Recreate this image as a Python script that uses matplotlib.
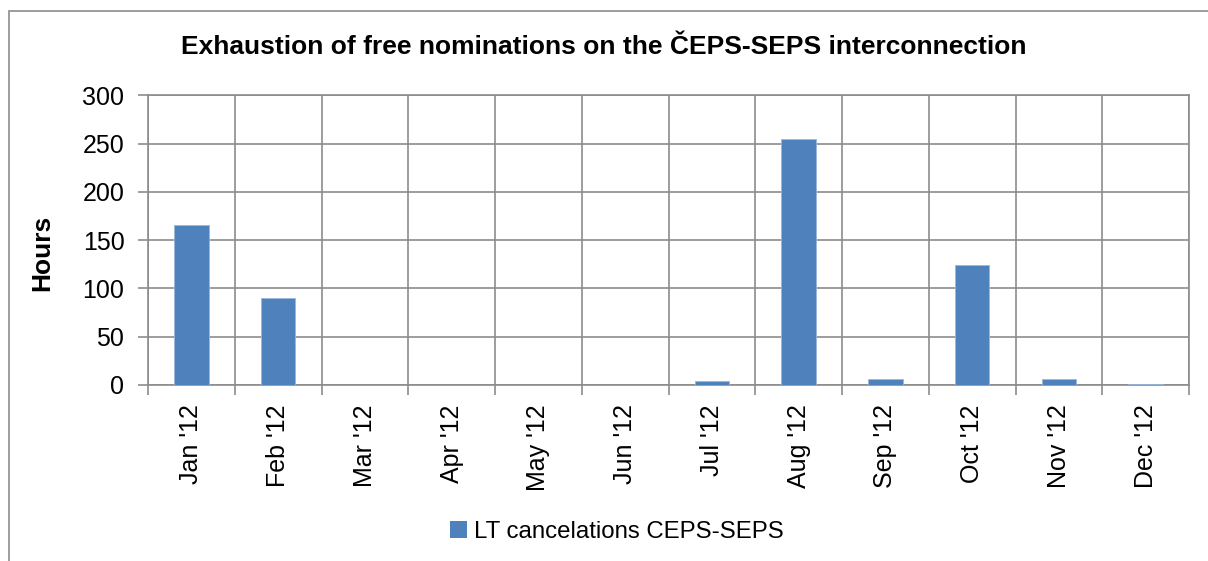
import matplotlib as mpl
mpl.use('Agg')
import matplotlib.pyplot as plt
import numpy as np
from matplotlib.patches import Rectangle, Patch

mpl.rcParams.update({
    'font.family': ['Liberation Sans', 'DejaVu Sans'],
    'font.size': 18,
})

months = ["Jan '12", "Feb '12", "Mar '12", "Apr '12", "May '12", "Jun '12",
          "Jul '12", "Aug '12", "Sep '12", "Oct '12", "Nov '12", "Dec '12"]
hours = [166, 90, 0, 0, 0, 0, 4, 255, 6, 124, 6, 1.5]
series_name = 'LT cancelations CEPS-SEPS'
title = 'Exhaustion of free nominations on the ČEPS-SEPS interconnection'

BAR = '#4F81BD'
GRID = '#8C8C8C'

W, H = 1208, 561
fig = plt.figure(figsize=(W / 100, H / 100), dpi=100)

# outer chart frame (cropped at right/bottom)
fig.patches.append(Rectangle((9 / W, -0.1), 1.2, 1 - 11 / H + 0.1,
                             transform=fig.transFigure, fill=False,
                             edgecolor='#8C8C8C', lw=1.2))

ax = fig.add_axes([148 / W, 1 - 385 / H, (1189 - 148) / W, (385 - 95.3) / H])
x = np.arange(len(months))
ax.bar(x, hours, width=0.4, color=BAR, edgecolor='#9BB7DA', lw=0.6, zorder=3)

ax.set_xlim(-0.5, len(months) - 0.5)
ax.set_ylim(0, 300)
ax.set_yticks(np.arange(0, 301, 50))
ax.set_xticks(x)
ax.set_xticklabels(months, rotation=90)
ax.set_xticks(np.arange(-0.5, len(months), 1), minor=True)
ax.tick_params(axis='x', which='major', length=0, pad=14)
ax.tick_params(axis='x', which='minor', length=7, width=1.2, color=GRID)
ax.tick_params(axis='y', length=7, width=1.2, color=GRID, pad=10)
ax.grid(True, axis='y', color=GRID, lw=1.2, zorder=0)
ax.grid(True, axis='x', which='minor', color=GRID, lw=1.2, zorder=0)
for s in ax.spines.values():
    s.set_color(GRID)
    s.set_linewidth(1.2)

ax.set_ylabel('Hours', fontweight='bold', fontsize=19)
ax.yaxis.set_label_coords((54 - 148) / (1189 - 148), (385 - 253) / (385 - 95.3))
fig.text(0.5, 1 - 47 / H, title, ha='center', va='center',
         fontsize=19, fontweight='bold')

handle = Patch(facecolor=BAR, edgecolor='none')
fig.legend([handle], [series_name], loc='center', bbox_to_anchor=(0.511, 1 - 532 / H),
           frameon=False, handlelength=0.7, handleheight=0.7, handletextpad=0.3,
           fontsize=17.3)

fig.savefig('out.png', dpi=100)
